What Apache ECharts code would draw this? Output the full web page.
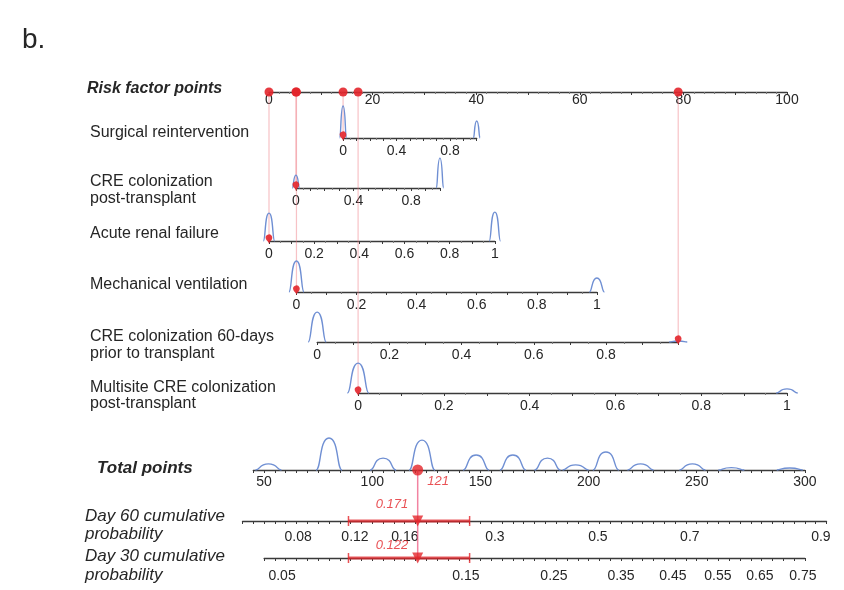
<!DOCTYPE html>
<html>
<head>
<meta charset="utf-8">
<script src="https://cdn.jsdelivr.net/npm/echarts@6/dist/echarts.min.js"></script>
<style>
  html, body { margin: 0; padding: 0; background: #fff; }
  #chart { width: 844px; height: 590px; }
</style>
</head>
<body>
<div id="chart"></div>
<script>
// ---------------- nomogram data ----------------
const riskTicks = [0, 20, 40, 60, 80, 100];

const predictorNames = [
  ['Surgical reintervention'],
  ['CRE colonization', 'post-transplant'],
  ['Acute renal failure'],
  ['Mechanical ventilation'],
  ['CRE colonization 60-days', 'prior to transplant'],
  ['Multisite CRE colonization', 'post-transplant']
];
// risk factor points reached at predictor value 0 and at value 1
const pointsAtZero = [14.3, 5.2, 0, 5.3, 9.3, 17.2];
const pointsAtOne  = [40.1, 33.0, 43.6, 63.3, 79.0, 100];
const predictorTickLabels = [
  [0, 0.4, 0.8],
  [0, 0.4, 0.8],
  [0, 0.2, 0.4, 0.6, 0.8, 1],
  [0, 0.2, 0.4, 0.6, 0.8, 1],
  [0, 0.2, 0.4, 0.6, 0.8],
  [0, 0.2, 0.4, 0.6, 0.8, 1]
];
// relative sample density at value 0 and value 1
const densityAtZero = [0.94, 0.38, 0.82, 0.91, 0.88, 0.88];
const densityAtOne  = [0.50, 0.88, 0.85, 0.41, 0.03, 0.12];
// the highlighted patient
const patientValues = [0, 0, 0, 0, 1, 0];
const patientTotal = 121;

const totalTicks = [50, 100, 150, 200, 250, 300];
// [total points, relative density]
const totalDensity = [
  [52, 0.18], [80, 0.94], [105, 0.35], [123, 0.88], [148, 0.44], [165, 0.44],
  [181, 0.35], [194, 0.15], [208, 0.53], [224, 0.18], [248, 0.18], [266, 0.07], [293, 0.06]
];

const day60Labels = ['0.08', '0.12', '0.16', '0.3', '0.5', '0.7', '0.9'];
const day60AtPoints = [65.7, 92.0, 115.1, 156.7, 204.3, 246.8, 307.4];
const day30Labels = ['0.05', '0.15', '0.25', '0.35', '0.45', '0.55', '0.65', '0.75'];
const day30AtPoints = [58.3, 143.3, 184.0, 215.0, 239.0, 259.8, 279.2, 299.1];
const day60Estimate = 0.171;
const day30Estimate = 0.122;
const intervalPoints = [89, 145];

// ---------------- styling / layout ----------------
const FONT = "'Liberation Sans', Arial, Helvetica, sans-serif";
const LINE = '#3a3a3a';
const TXT = '#262626';
const RED = '#e3252b';
const BLUE = '#6f8fd3';
const PINK = 'rgba(238,120,128,0.45)';
const BUMP_H = 34;
const riskY = 92;
const rowY = [138, 188, 241, 292, 342, 393];
const totalY = 470, day60Y = 521, day30Y = 558;

const chart = echarts.init(document.getElementById('chart'));

function band(lineY) { return { top: lineY - BUMP_H, height: BUMP_H }; }

function xAxis(gridIndex, min, max, interval, labels, formatter, opt) {
  opt = opt || {};
  return {
    type: 'value', gridIndex, min, max, interval, position: 'bottom',
    axisLine: { show: true, onZero: false, lineStyle: { color: LINE, width: 1.3 } },
    axisTick: { show: true, length: 3, lineStyle: { color: LINE, width: 1 } },
    minorTick: { show: !!opt.minor, splitNumber: opt.minor || 5, length: 2, lineStyle: { color: '#777' } },
    splitLine: { show: false },
    axisLabel: {
      show: true, customValues: labels, formatter,
      margin: opt.margin != null ? opt.margin : 3,
      fontFamily: FONT, fontSize: 14, color: TXT
    }
  };
}
function yAxis(gridIndex) {
  return { type: 'value', gridIndex, min: 0, max: 1, show: false };
}
const fmtNum = v => String(Math.round(v * 10) / 10);
function lookup(points, labels) {
  return v => {
    let best = 0;
    points.forEach((p, i) => { if (Math.abs(p - v) < Math.abs(points[best] - v)) best = i; });
    return labels[best];
  };
}

// density bumps drawn as arches over the axis
function bumpRenderer(baseWidth) {
  return function (params, api) {
    const c = api.value(0), d = api.value(1);
    const p0 = api.coord([c - baseWidth / 2, 0]);
    const p1 = api.coord([c + baseWidth / 2, 0]);
    const pt = api.coord([c, d]);
    const w = p1[0] - p0[0];
    const path = 'M' + p0[0] + ',' + p0[1] +
      ' C' + (p0[0] + 0.2 * w) + ',' + p0[1] + ' ' + (p0[0] + 0.12 * w) + ',' + pt[1] + ' ' + pt[0] + ',' + pt[1] +
      ' C' + (p1[0] - 0.12 * w) + ',' + pt[1] + ' ' + (p1[0] - 0.2 * w) + ',' + p1[1] + ' ' + p1[0] + ',' + p1[1];
    return { type: 'path', shape: { pathData: path }, style: { fill: 'none', stroke: BLUE, lineWidth: 1.4 } };
  };
}

// ---- pass 1: the two reference scales (risk points, total points)
const baseGrids = [
  Object.assign({ left: 269, width: 518 }, band(riskY)),
  Object.assign({ left: 253.3, width: 551.6 }, band(totalY))
];
const baseX = [
  xAxis(0, 0, 100, 10, riskTicks, v => String(v), { minor: 5, margin: 1 }),
  xAxis(1, 45, 300, 5, totalTicks, v => String(v), { margin: 5 })
];
chart.setOption({ animation: false, grid: baseGrids, xAxis: baseX, yAxis: [yAxis(0), yAxis(1)] });

const riskPx = v => chart.convertToPixel({ xAxisIndex: 0 }, v);
const totalPx = v => chart.convertToPixel({ xAxisIndex: 1 }, v);

// ---- pass 2: predictor and probability scales laid against the reference scales
const grids = baseGrids.slice();
const xAxes = baseX.slice();
const yAxes = [yAxis(0), yAxis(1)];
const series = [];

const contributions = patientValues.map((v, i) => pointsAtZero[i] + v * (pointsAtOne[i] - pointsAtZero[i]));

predictorNames.forEach((name, i) => {
  const g = i + 2;
  const l = riskPx(pointsAtZero[i]);
  const r = riskPx(pointsAtOne[i]);
  grids.push(Object.assign({ left: l, width: r - l }, band(rowY[i])));
  xAxes.push(xAxis(g, 0, 1, 0.1, predictorTickLabels[i], fmtNum, { minor: 2, margin: 6 }));
  yAxes.push(yAxis(g));
  series.push({
    type: 'custom', xAxisIndex: g, yAxisIndex: g, clip: false, z: 3,
    renderItem: bumpRenderer(0.05),
    data: [[0, densityAtZero[i]], [1, densityAtOne[i]]]
  });
  series.push({
    type: 'scatter', xAxisIndex: g, yAxisIndex: g, z: 6,
    symbol: 'pin', symbolSize: 11, symbolOffset: [0, 3],
    itemStyle: { color: RED, opacity: 0.9 },
    data: [[patientValues[i], 0]]
  });
});

// red dots on the risk points scale
series.push({
  type: 'scatter', xAxisIndex: 0, yAxisIndex: 0, z: 6,
  symbol: 'circle', symbolSize: 9, itemStyle: { color: RED, opacity: 0.9 },
  data: contributions.map(p => [p, 0])
});

// total points
series.push({
  type: 'custom', xAxisIndex: 1, yAxisIndex: 1, clip: false, z: 3,
  renderItem: bumpRenderer(12), data: totalDensity
});
series.push({
  type: 'scatter', xAxisIndex: 1, yAxisIndex: 1, z: 6,
  symbol: 'circle', symbolSize: 11, itemStyle: { color: RED },
  label: {
    show: true, formatter: String(patientTotal), position: 'right', distance: 4, offset: [0, 11],
    color: RED, fontStyle: 'italic', fontFamily: FONT, fontSize: 13
  },
  data: [[patientTotal, 0]]
});

// probability scales
const probRows = [
  { g: 8, y: day60Y, min: 40, max: 310, labels: day60Labels, at: day60AtPoints, est: day60Estimate, margin: 9, lift: -17 },
  { g: 9, y: day30Y, min: 50, max: 300, labels: day30Labels, at: day30AtPoints, est: day30Estimate, margin: 11, lift: -13 }
];
probRows.forEach(row => {
  const l = totalPx(row.min), r = totalPx(row.max);
  grids.push(Object.assign({ left: l, width: r - l }, band(row.y)));
  xAxes.push(xAxis(row.g, row.min, row.max, 5, row.at, lookup(row.at, row.labels), { margin: row.margin }));
  yAxes.push(yAxis(row.g));
  series.push({
    type: 'custom', xAxisIndex: row.g, yAxisIndex: row.g, clip: false, z: 4,
    renderItem: function (params, api) {
      const a = api.coord([api.value(0), 0]);
      const b = api.coord([api.value(1), 0]);
      const st = { stroke: 'rgba(227,37,43,0.8)', lineWidth: 1.5 };
      return {
        type: 'group', children: [
          { type: 'line', shape: { x1: a[0], y1: a[1], x2: b[0], y2: b[1] }, style: { stroke: 'rgba(227,37,43,0.75)', lineWidth: 3 } },
          { type: 'line', shape: { x1: a[0], y1: a[1] - 5, x2: a[0], y2: a[1] + 5 }, style: st },
          { type: 'line', shape: { x1: b[0], y1: b[1] - 5, x2: b[0], y2: b[1] + 5 }, style: st }
        ]
      };
    },
    data: [intervalPoints]
  });
  series.push({
    type: 'scatter', xAxisIndex: row.g, yAxisIndex: row.g, z: 6,
    symbol: 'triangle', symbolRotate: 180, symbolSize: 11, itemStyle: { color: RED },
    label: {
      show: true, formatter: String(row.est), position: 'left', distance: 4, offset: [0, row.lift],
      color: RED, fontStyle: 'italic', fontFamily: FONT, fontSize: 13
    },
    data: [[patientTotal, 0]]
  });
});

function label(text, x, y, font) {
  return { type: 'text', x, y, z: 10, style: { text, font, fill: TXT, verticalAlign: 'middle', align: 'left' } };
}
const plain = '16px ' + FONT;
const graphics = [
  label('b.', 22, 40, '28px ' + FONT),
  label('Risk factor points', 87, 89, 'italic bold 16px ' + FONT),
  label('Total points', 97, 468, 'italic bold 17px ' + FONT),
  label('Day 60 cumulative', 85, 516, 'italic 17px ' + FONT),
  label('probability', 85, 534, 'italic 17px ' + FONT),
  label('Day 30 cumulative', 85, 556, 'italic 17px ' + FONT),
  label('probability', 85, 575, 'italic 17px ' + FONT)
];
const nameY = [[133], [182, 199], [234], [285], [337, 354], [388, 404]];
predictorNames.forEach((lines, i) => {
  lines.forEach((t, k) => graphics.push(label(t, 90, nameY[i][k], plain)));
});

chart.setOption({
  animation: false, grid: grids, xAxis: xAxes, yAxis: yAxes, series, graphic: graphics
}, true);

// guide lines linking each predictor value to its points, and the total to the probabilities
const riskLineY = chart.convertToPixel({ yAxisIndex: 0 }, 0);
contributions.forEach((p, i) => {
  const x = riskPx(p);
  const y2 = chart.convertToPixel({ yAxisIndex: i + 2 }, 0);
  graphics.push({ type: 'line', z: 1, shape: { x1: x, y1: riskLineY, x2: x, y2 }, style: { stroke: PINK, lineWidth: 1.2 } });
});
const tx = totalPx(patientTotal);
graphics.push({
  type: 'line', z: 1,
  shape: { x1: tx, y1: chart.convertToPixel({ yAxisIndex: 1 }, 0), x2: tx, y2: chart.convertToPixel({ yAxisIndex: 9 }, 0) },
  style: { stroke: 'rgba(238,90,130,0.75)', lineWidth: 1.5 }
});
chart.setOption({ graphic: graphics });
</script>
</body>
</html>
